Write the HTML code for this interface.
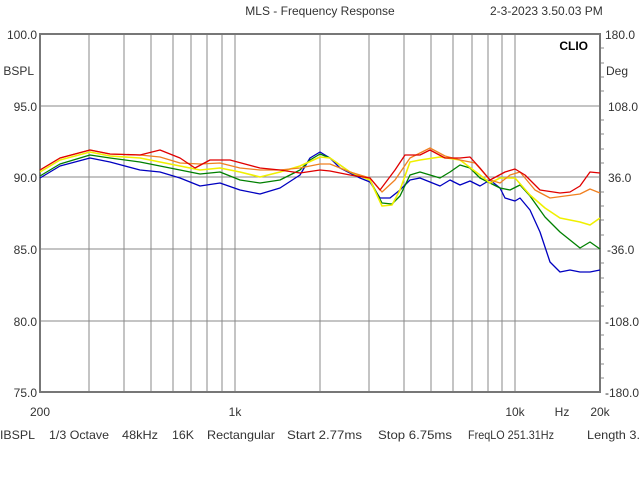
<!DOCTYPE html>
<html><head><style>
body{margin:0;background:#fff;}
svg{display:block;font-family:"Liberation Sans",sans-serif;font-size:12px;}
</style></head><body>
<svg width="640" height="480" viewBox="0 0 640 480">
<rect width="640" height="480" fill="#fff"/>
<text x="320" y="15" text-anchor="middle" fill="#333">MLS - Frequency Response</text>
<text x="490" y="15" fill="#333">2-3-2023 3.50.03 PM</text>
<g stroke="#888" stroke-width="1">
<line x1="89" y1="34" x2="89" y2="392"/><line x1="124" y1="34" x2="124" y2="392"/><line x1="151" y1="34" x2="151" y2="392"/><line x1="173" y1="34" x2="173" y2="392"/><line x1="191" y1="34" x2="191" y2="392"/><line x1="207" y1="34" x2="207" y2="392"/><line x1="222" y1="34" x2="222" y2="392"/><line x1="235" y1="34" x2="235" y2="392"/>
<line x1="320" y1="34" x2="320" y2="392"/><line x1="369" y1="34" x2="369" y2="392"/><line x1="404" y1="34" x2="404" y2="392"/><line x1="431" y1="34" x2="431" y2="392"/><line x1="453" y1="34" x2="453" y2="392"/><line x1="472" y1="34" x2="472" y2="392"/><line x1="488" y1="34" x2="488" y2="392"/><line x1="502" y1="34" x2="502" y2="392"/><line x1="515" y1="34" x2="515" y2="392"/>
<line x1="40" y1="106" x2="600" y2="106"/><line x1="40" y1="177" x2="600" y2="177"/><line x1="40" y1="249" x2="600" y2="249"/><line x1="40" y1="321" x2="600" y2="321"/>
</g>
<g stroke="#888" stroke-width="1">
<line x1="600" y1="48" x2="604" y2="48"/><line x1="600" y1="63" x2="604" y2="63"/><line x1="600" y1="77" x2="604" y2="77"/><line x1="600" y1="91" x2="604" y2="91"/><line x1="600" y1="120" x2="604" y2="120"/><line x1="600" y1="134" x2="604" y2="134"/><line x1="600" y1="149" x2="604" y2="149"/><line x1="600" y1="163" x2="604" y2="163"/><line x1="600" y1="192" x2="604" y2="192"/><line x1="600" y1="206" x2="604" y2="206"/><line x1="600" y1="220" x2="604" y2="220"/><line x1="600" y1="235" x2="604" y2="235"/><line x1="600" y1="263" x2="604" y2="263"/><line x1="600" y1="278" x2="604" y2="278"/><line x1="600" y1="292" x2="604" y2="292"/><line x1="600" y1="306" x2="604" y2="306"/><line x1="600" y1="335" x2="604" y2="335"/><line x1="600" y1="349" x2="604" y2="349"/><line x1="600" y1="364" x2="604" y2="364"/><line x1="600" y1="378" x2="604" y2="378"/>
</g>
<rect x="40" y="34" width="560" height="358" fill="none" stroke="#777" stroke-width="2"/>
<g fill="none" stroke-width="1.3" stroke-linejoin="round">
<polyline stroke="#0000c0" points="40,178 60,166 90,158 110,162 140,170 160,172 180,178 200,186 220,183 240,190 260,194 280,188 300,175 310,158 320,152 330,158 340,168 360,178 370,182 380,198 390,198 400,190 410,180 420,178 440,186 450,180 460,185 470,181 480,186 490,180 500,188 505,198 515,201 520,198 530,210 540,232 550,262 560,272 570,270 580,272 590,272 600,270"/>
<polyline stroke="#008000" points="40,176 60,164 90,155 110,158 140,162 160,166 180,170 200,174 220,172 240,180 260,183 280,180 300,170 310,160 320,154 330,158 350,172 370,180 382,203 392,204 400,196 410,175 420,172 440,178 450,172 460,165 470,168 480,178 490,183 500,188 510,190 520,185 530,196 545,217 560,232 570,240 580,248 590,242 600,249"/>
<polyline stroke="#f0f000" stroke-width="1.6" points="40,172 60,160 90,152 110,156 140,158 160,162 180,166 200,170 220,168 240,172 260,177 280,172 300,166 320,157 330,158 350,172 370,180 382,206 392,205 400,190 410,162 420,160 440,157 460,160 480,175 490,183 500,178 515,178 530,195 545,208 560,218 580,222 590,225 600,218"/>
<polyline stroke="#f08020" points="40,170 60,158 90,150 110,154 140,155 160,157 180,163 200,164 220,163 240,168 260,170 280,170 300,168 320,164 330,164 350,172 370,178 382,192 395,180 410,158 430,148 445,156 460,160 475,163 490,180 500,183 510,175 520,172 535,190 550,198 565,196 580,194 590,189 600,193"/>
<polyline stroke="#e00000" points="40,170 60,158 90,150 110,154 140,155 160,150 180,158 195,168 210,160 230,160 260,168 280,170 300,173 320,170 330,171 350,175 370,178 380,190 395,170 405,155 420,155 430,150 445,158 460,158 470,157 480,168 490,180 505,172 515,169 525,175 540,190 560,193 570,192 580,186 590,172 600,173"/>
</g>
<text x="588" y="50" text-anchor="end" font-weight="bold" fill="#000">CLIO</text>
<g fill="#333" text-anchor="end">
<text x="37" y="39">100.0</text><text x="37" y="111">95.0</text><text x="37" y="182">90.0</text><text x="37" y="254">85.0</text><text x="37" y="326">80.0</text><text x="37" y="397">75.0</text>
<text x="34" y="75">BSPL</text>
</g>
<g fill="#333">
<text x="605" y="39">180.0</text><text x="608" y="111">108.0</text><text x="608" y="182">36.0</text><text x="607" y="254">-36.0</text><text x="605" y="326">-108.0</text><text x="605" y="397">-180.0</text>
<text x="606" y="75">Deg</text>
</g>
<g fill="#333" text-anchor="middle">
<text x="40" y="416">200</text><text x="235" y="416">1k</text><text x="515" y="416">10k</text><text x="562" y="416">Hz</text><text x="600" y="416">20k</text>
</g>
<g fill="#333">
<text x="0" y="439" textLength="35" lengthAdjust="spacingAndGlyphs">IBSPL</text>
<text x="49" y="439" textLength="60" lengthAdjust="spacingAndGlyphs">1/3 Octave</text>
<text x="122" y="439" textLength="36" lengthAdjust="spacingAndGlyphs">48kHz</text>
<text x="172" y="439" textLength="22" lengthAdjust="spacingAndGlyphs">16K</text>
<text x="207" y="439" textLength="68" lengthAdjust="spacingAndGlyphs">Rectangular</text>
<text x="287" y="439" textLength="75" lengthAdjust="spacingAndGlyphs">Start 2.77ms</text>
<text x="378" y="439" textLength="74" lengthAdjust="spacingAndGlyphs">Stop 6.75ms</text>
<text x="468" y="439" textLength="86" lengthAdjust="spacingAndGlyphs">FreqLO 251.31Hz</text>
<text x="587" y="439" textLength="53" lengthAdjust="spacingAndGlyphs">Length 3.</text>
</g>
</svg>
</body></html>
